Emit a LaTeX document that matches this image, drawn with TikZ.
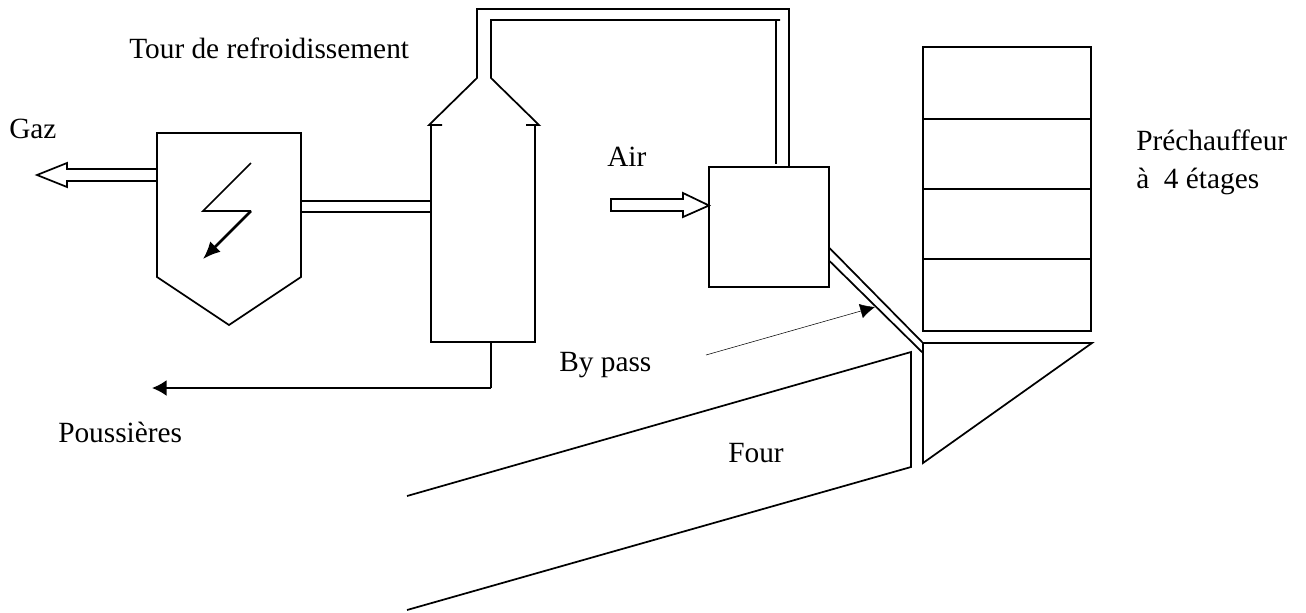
\documentclass[tikz,border=0pt]{standalone}
\usepackage{fontspec}
\setmainfont{Liberation Serif}
\usetikzlibrary{arrows.meta,positioning,calc}
\tikzset{
  wall/.style={draw=black, line width=1.3pt, line join=miter},
  stage/.style={rectangle, draw=black, line width=1.3pt, inner sep=0pt, minimum width=126pt, minimum height=52.5pt},
  lbl/.style={anchor=base west, inner sep=0pt, font=\fontsize{22}{26}\selectfont},
  arrow/.style={-{Latex[length=11pt,width=12pt]}, line width=1.3pt, draw=black},
  thinarrow/.style={-{Latex[length=11pt,width=11pt]}, line width=0.4pt, draw=black}
}
\begin{document}
\begin{tikzpicture}[x=0.75pt,y=-0.75pt]
  \useasboundingbox (0,0) rectangle (1306,612);
  % electrofilter
  \draw[wall] (157,133) -- (301,133) -- (301,277) -- (229,325) -- (157,277) -- cycle;
  \draw[wall] (157,169) -- (67,169) -- (67,163) -- (37,175) -- (67,187) -- (67,181) -- (157,181);
  \coordinate (zigA) at (251,163);
  \coordinate (zigB) at (203,211);
  \coordinate (zigC) at (251,211);
  \coordinate (zigD) at (203,259);
  \draw[wall] (zigA) -- (zigB) -- (zigC);
  \draw[-{Latex[length=13pt,width=11pt]}, line width=2pt] (zigC) -- (zigD);
  \draw[wall] (301,201) -- (431,201);
  \draw[wall] (301,212) -- (431,212);
  % tower
  \draw[wall] (431,125) -- (431,342) -- (535,342) -- (535,125);
  \draw[wall] (442,125) -- (429,125) -- (477,78) -- (477,9) -- (789,9) -- (789,167);
  \draw[wall] (526,125) -- (539,125) -- (491,78) -- (491,20) -- (780,20);
  \draw[wall] (776,20) -- (776,164);
  % dust
  \coordinate (dustA) at (491,342);
  \coordinate (dustB) at (491,388);
  \coordinate (dustC) at (152,388);
  \draw[wall] (dustA) -- (dustB);
  \draw[arrow] (dustB) -- (dustC);
  % air
  \node[stage, minimum width=90pt, minimum height=90pt] (mix) at (769,227) {};
  \coordinate (airTip) at (709,205.5);
  \draw[wall] (airTip) ++(-26,-6.5) -- ++(0,-6) -- (airTip) -- ++(-26,11.5) -- ++(0,-6) -- ++(-72,0) -- ++(0,-12) -- cycle;
  % preheater
  \node[stage, minimum height=54pt] (s1) at (1007,83) {};
  \node[stage] (s2) at (1007,154) {};
  \node[stage] (s3) at (1007,224) {};
  \node[stage, minimum height=54pt] (s4) at (1007,295) {};
  \draw[wall] (923,343) -- (1092,343) -- (923,463) -- cycle;
  % by pass
  \draw[wall] (829.5,248) -- (923,343);
  \draw[wall] (829.5,261) -- (923,353);
  \coordinate (bpA) at (706,355);
  \coordinate (bpB) at (875,307);
  \draw[thinarrow] (bpA) -- (bpB);
  % kiln
  \draw[wall] (407,496) -- (911,352) -- (911,467) -- (407,610);
  % labels
  \node[lbl] (tour) at (129,58) {Tour de refroidissement};
  \node[lbl] (gaz) at (9,138) {Gaz};
  \node[lbl] (air) at (607,166) {Air};
  \node[lbl] (pre) at (1136,150) {Préchauffeur};
  \node[lbl] (etages) at (1136,188) {à\ \ 4 étages};
  \node[lbl] (bypass) at (559,371) {By pass};
  \node[lbl] (pous) at (58,442) {Poussières};
  \node[lbl] (four) at (728,462) {Four};
\end{tikzpicture}
\end{document}
